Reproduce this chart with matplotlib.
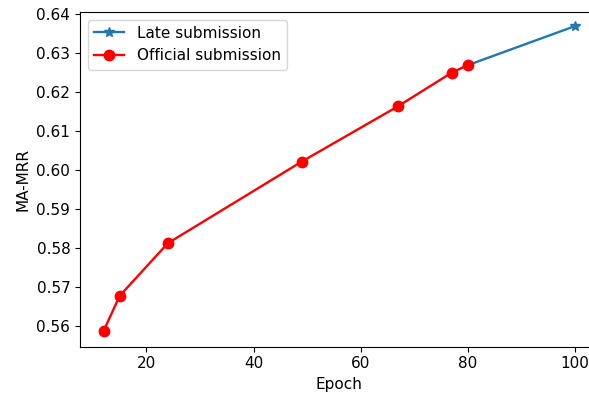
import matplotlib
matplotlib.use('Agg')
import matplotlib.pyplot as plt

plt.rcParams['font.size'] = 11

# official submission epochs and scores
official_epoch = [12, 15, 24, 49, 67, 77, 80]
official_mrr = [0.5587, 0.5677, 0.5812, 0.6021, 0.6163, 0.6249, 0.6268]

# late submission continues from the last official one
late_epoch = [80, 100]
late_mrr = [0.6268, 0.6368]

fig = plt.figure(figsize=(5.89, 3.97), dpi=100)
ax = fig.add_axes([0.1358, 0.1267, 0.8805, 0.843])

ax.plot(late_epoch, late_mrr, marker='*', color='#1f77b4', lw=1.7, ms=7,
        label='Late submission')
ax.plot(official_epoch, official_mrr, marker='o', color='r', lw=1.7, ms=7.5,
        label='Official submission')

ax.set_xlim(7.6, 104.4)
ax.set_ylim(0.5547, 0.6404)
ax.set_xlabel('Epoch')
ax.set_ylabel('MA-MRR')
ax.legend(loc='upper left')

fig.savefig('out.png', dpi=100)
